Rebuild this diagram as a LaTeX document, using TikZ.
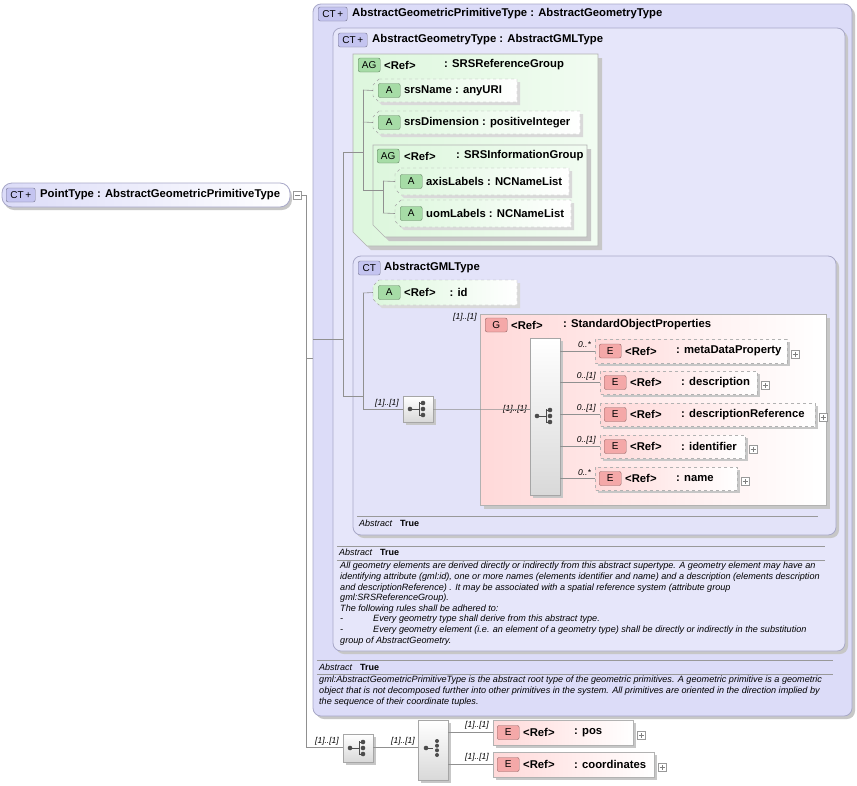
\documentclass[tikz,border=0pt]{standalone}
\usepackage{fontspec}
\setmainfont{Liberation Sans}
\definecolor{ctfill}{HTML}{DCDCF8}
\definecolor{ctline}{HTML}{A8A8C8}
\definecolor{grfill}{HTML}{DDF7DD}
\definecolor{elfill}{HTML}{FFD9D9}
\definecolor{badgeb}{HTML}{C4C4F0}
\definecolor{badgeg}{HTML}{A6DCA6}
\definecolor{badgee}{HTML}{F4A8A8}
\definecolor{conn}{HTML}{909090}
\tikzset{
 hdr/.style={font=\fontsize{11.3}{12}\selectfont\bfseries, anchor=west, inner sep=0pt},
 card/.style={font=\fontsize{8.5}{9}\selectfont\itshape, anchor=south east, inner sep=1pt},
 conn/.style={draw=conn, line width=0.6pt},
 ctbox/.style={draw=ctline, fill=ctfill, rounded corners=8pt, line width=0.8pt},
 grbox/.style={draw=black!30, left color=grfill, right color=grfill!40, line width=0.6pt},
 elbox/.style={draw=black!30, left color=elfill, right color=white, line width=0.6pt},
 shad/.style={fill=black!22},
 badge/.style={draw=#1!60!black, fill=#1, rounded corners=2pt, font=\fontsize{10}{10}\selectfont, inner sep=0pt, minimum height=14pt, minimum width=22pt, anchor=west},
 plusb/.style={draw=black!40, fill=white, minimum size=8pt, inner sep=0pt},
 para/.style={font=\fontsize{9.1}{10.6}\selectfont\itshape, anchor=north west, inner sep=0pt, align=left},
 abst/.style={font=\fontsize{9}{10}\selectfont\itshape, anchor=west, inner sep=0pt},
 seqb/.style={draw=black!35, top color=white, bottom color=black!15, line width=0.6pt},
}
\newcommand\xattr[6]{%
 \fill[black!15] (#2+9,#3+3)--(#4+3,#3+3)--(#4+3,#5+3)--(#2+9,#5+3)--(#2+3,#5-3)--(#2+3,#3+9)--cycle;
 \path[draw=black!35, dashed, fill=white, left color=grfill, right color=white] (#2+6,#3)--(#4,#3)--(#4,#5)--(#2+6,#5)--(#2,#5-6)--(#2,#3+6)--cycle;
 \coordinate (#1) at (#2,{(#3+#5)/2});
 \node[badge=badgeg] at (#2+5,{(#3+#5)/2}) {A};
 \node[hdr] at (#2+31,{(#3+#5)/2}) {#6};}
\newcommand\xelem[7]{%
 \fill[shad] (#2+3,#3+3) rectangle (#4+3,#5+3);
 \path[elbox,#6] (#2,#3) rectangle (#4,#5);
 \coordinate (#1) at (#2,{(#3+#5)/2});
 \node[badge=badgee] at (#2+4,{(#3+#5)/2}) {E};
 \node[hdr] at (#2+30,{(#3+#5)/2}) {<Ref>};
 \node[hdr] at (#2+81,{(#3+#5)/2}) {#7};
 \node[plusb] (#1p) at (#4+8,{(#3+#5)/2+3}) {};
 \draw[black!50,line width=0.4pt] (#4+5.5,{(#3+#5)/2+3})--(#4+10.5,{(#3+#5)/2+3}) (#4+8,{(#3+#5)/2+0.5})--(#4+8,{(#3+#5)/2+5.5});}
\newcommand\xseqicon[2]{%
 \fill[black!70] (#1-8,#2) circle (2.3pt) (#1+5,#2-6) circle (2.3pt) (#1+5,#2) circle (2.3pt) (#1+5,#2+6) circle (2.3pt);
 \draw[black!70,line width=0.9pt] (#1-8,#2)--(#1+1,#2) (#1+1,#2-7)--(#1+1,#2+7) (#1+1,#2-6)--(#1+5,#2-6) (#1+1,#2+6)--(#1+5,#2+6);}
\newcommand\xchoicon[2]{%
 \fill[black!70] (#1-7,#2) circle (2.3pt) (#1+4,#2-7) circle (2pt) (#1+4,#2-2.3) circle (2pt) (#1+4,#2+2.3) circle (2pt) (#1+4,#2+7) circle (2pt);
 \draw[black!70,line width=0.9pt] (#1-7,#2)--(#1,#2);}
\begin{document}
\begin{tikzpicture}[x=1pt,y=-1pt]
\useasboundingbox (0,0) rectangle (857,785);
\fill[white] (0,0) rectangle (857,785);
% PointType
\fill[shad,rounded corners=10pt] (4,186) rectangle (292,210);
\path[draw=ctline, left color=ctfill, right color=white, rounded corners=10pt, line width=0.8pt] (2,183) rectangle (290,207);
\node[badge=badgeb, minimum width=29pt] (pt) at (6,195) {CT\,+};
\node[hdr] at (40,195) {PointType : AbstractGeometricPrimitiveType};
\node[plusb] (ptm) at (297,195) {};
\draw[black!50,line width=0.4pt] (294.5,195)--(299.5,195);
% outer CT
\fill[shad,rounded corners=8pt] (316,7) rectangle (855,719);
\path[ctbox] (313,4) rectangle (852,716);
\node[badge=badgeb, minimum width=29pt] at (318,14) {CT\,+};
\node[hdr] at (352,14) {AbstractGeometricPrimitiveType : AbstractGeometryType};
% geometry CT
\fill[shad,rounded corners=8pt] (336,31) rectangle (848,654);
\path[ctbox, fill=ctfill!70] (333,28) rectangle (845,651);
\node[badge=badgeb, minimum width=29pt] at (338,40) {CT\,+};
\node[hdr] at (372,40) {AbstractGeometryType : AbstractGMLType};
% SRSReferenceGroup
\fill[shad] (357,58) -- (602,58) -- (602,250) -- (371,250) -- (357,236) -- cycle;
\path[grbox] (353,54) -- (598,54) -- (598,246) -- (367,246) -- (353,232) -- cycle;
\node[badge=badgeg] at (358,65) {AG};
\node[hdr] at (384,65) {<Ref>};
\node[hdr] at (444,65) {: SRSReferenceGroup};
\xattr{srsn}{373}{79}{517}{102}{srsName : anyURI}
\xattr{srsd}{373}{111}{580}{134}{srsDimension : positiveInteger}
\fill[shad] (377,149) -- (591,149) -- (591,241) -- (389,241) -- (377,229) -- cycle;
\path[grbox] (373,145) -- (587,145) -- (587,237) -- (385,237) -- (373,225) -- cycle;
\coordinate (srsi) at (373,190);
\node[badge=badgeg] at (377,156) {AG};
\node[hdr] at (404,156) {<Ref>};
\node[hdr] at (456,156) {: SRSInformationGroup};
\xattr{axl}{395}{168}{569}{195}{axisLabels : NCNameList}
\xattr{uoml}{395}{200}{571}{227}{uomLabels : NCNameList}
% AbstractGMLType
\fill[shad,rounded corners=8pt] (356,259) rectangle (839,538);
\path[ctbox, fill=ctfill!80] (353,256) rectangle (836,535);
\node[badge=badgeb] at (358,268) {CT};
\node[hdr] at (384,268) {AbstractGMLType};
\xattr{gid}{373}{280}{517}{305}{<Ref>\hspace{14pt}: id}
% seq icon
\fill[shad] (406,399) rectangle (436,425);
\path[seqb] (403,396) rectangle (433,422);
\coordinate (seq1) at (403,409); \coordinate (seq1r) at (433,409);
\xseqicon{418}{409}
\node[card] at (400,408) {[1]..[1]};
% StandardObjectProperties
\fill[shad] (484,318) rectangle (830,509);
\path[elbox] (480,314) rectangle (826,505);
\coordinate (sop) at (480,409);
\node[card] at (478,322) {[1]..[1]};
\node[badge=badgee] at (485,325) {G};
\node[hdr] at (511,325) {<Ref>};
\node[hdr] at (563,325) {: StandardObjectProperties};
\fill[shad] (533,341) rectangle (563,498);
\path[seqb] (530,338) rectangle (560,495);
\coordinate (seq2) at (530,409); \coordinate (seq2r) at (560,409);
\xseqicon{545}{416}
\node[card] at (528,414) {[1]..[1]};
\xelem{mdp}{595}{339}{787}{363}{dashed}{: metaDataProperty}
\xelem{dsc}{600}{371}{757}{394}{dashed}{: description}
\xelem{dsr}{600}{403}{815}{426}{dashed}{: descriptionReference}
\xelem{idf}{600}{435}{745}{458}{dashed}{: identifier}
\xelem{nam}{595}{467}{737}{490}{dashed}{: name}
\node[card] at (592,349) {0..*};
\node[card] at (597,381) {0..[1]};
\node[card] at (597,413) {0..[1]};
\node[card] at (597,445) {0..[1]};
\node[card] at (592,477) {0..*};
\draw[conn] (seq2r |- mdp) -- (mdp);
\draw[conn] (seq2r |- dsc) -- (dsc);
\draw[conn] (seq2r |- dsr) -- (dsr);
\draw[conn] (seq2r |- idf) -- (idf);
\draw[conn] (seq2r |- nam) -- (nam);
\draw[conn] (seq1r) -- (sop) -- (seq2);
% Abstract lines
\draw[black!40] (357,516) -- (818,516);
\node[abst] at (359,523) {Abstract\hspace{8pt}\bfseries\upshape True};
\draw[black!40] (337,546) -- (825,546);
\node[abst] at (339,552) {Abstract\hspace{8pt}\bfseries\upshape True};
\draw[black!40] (337,560) -- (825,560);
\node[para] (p1) at (340,562) {All geometry elements are derived directly or indirectly from this abstract supertype. A geometry element may have an\\
identifying attribute (gml:id), one or more names (elements identifier and name) and a description (elements description\\
and descriptionReference) . It may be associated with a spatial reference system (attribute group\\
gml:SRSReferenceGroup).\\
The following rules shall be adhered to:\\
-\hspace{30pt}Every geometry type shall derive from this abstract type.\\
-\hspace{30pt}Every geometry element (i.e. an element of a geometry type) shall be directly or indirectly in the substitution\\
group of AbstractGeometry.};
\draw[black!40] (317,660) -- (833,660);
\node[abst] at (319,667) {Abstract\hspace{8pt}\bfseries\upshape True};
\draw[black!40] (317,674) -- (833,674);
\node[para] (p2) at (319,676) {gml:AbstractGeometricPrimitiveType is the abstract root type of the geometric primitives. A geometric primitive is a geometric\\
object that is not decomposed further into other primitives in the system. All primitives are oriented in the direction implied by\\
the sequence of their coordinate tuples.};
% bottom sequence/choice
\fill[shad] (346,737) rectangle (376,765);
\path[seqb] (343,734) rectangle (373,762);
\coordinate (seq3) at (343,747); \coordinate (seq3r) at (373,747);
\xseqicon{358}{748}
\node[card] at (340,746) {[1]..[1]};
\fill[shad] (421,723) rectangle (451,783);
\path[seqb] (418,720) rectangle (448,780);
\coordinate (ch) at (418,747); \coordinate (chr) at (448,747);
\xchoicon{433}{748}
\node[card] at (416,746) {[1]..[1]};
\draw[conn] (seq3r) -- (ch);
\xelem{pos}{493}{720}{633}{745}{}{: pos}
\xelem{crd}{493}{752}{654}{777}{}{: coordinates}
\node[card] at (490,730) {[1]..[1]};
\node[card] at (490,762) {[1]..[1]};
\draw[conn] (chr |- pos) -- (pos);
\draw[conn] (chr |- crd) -- (crd);
% main connectors
\coordinate (j0) at (306,195);
\coordinate (outer) at (313,358);
\draw[conn] (ptm.east) -- (j0) -- (306,747) -- (seq3);
\draw[conn] (306,358) -- (outer);
\draw[conn] (313,339) -- (343,339);
\draw[conn] (343,152) -- (343,396);
\draw[conn] (343,152) -- (363,152);
\draw[conn] (363,90) -- (363,190);
\draw[conn] (363,90) -- (srsn);
\draw[conn] (363,122) -- (srsd);
\draw[conn] (363,190) -- (srsi);
\draw[conn] (383,181) -- (383,213);
\draw[conn] (373,190) -- (383,190);
\draw[conn] (383,181) -- (axl);
\draw[conn] (383,213) -- (uoml);
\draw[conn] (343,396) -- (363,396);
\draw[conn] (363,293) -- (363,409) -- (seq1);
\draw[conn] (363,293) -- (gid);
\end{tikzpicture}
\end{document}
